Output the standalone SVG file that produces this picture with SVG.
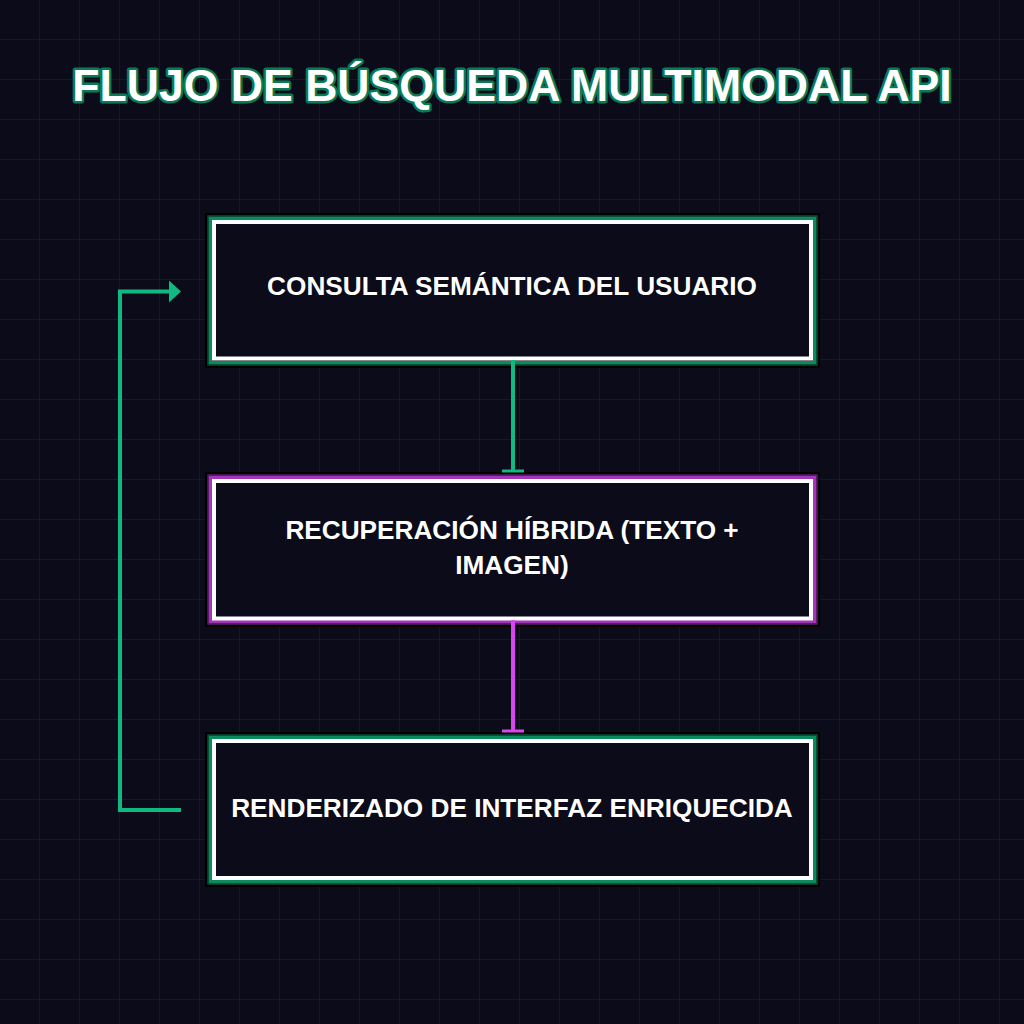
<svg xmlns="http://www.w3.org/2000/svg" width="1024" height="1024" viewBox="0 0 1024 1024">
<defs>
<pattern id="grid" width="40" height="40" patternUnits="userSpaceOnUse">
<path d="M40 0V40M0 40H40" fill="none" stroke="#1a1a30" stroke-width="1.5"/>
</pattern>
<marker id="teeG" markerWidth="6" markerHeight="24" refX="3" refY="12" orient="auto" markerUnits="userSpaceOnUse" viewBox="0 0 6 24">
<rect x="1.5" y="1" width="3" height="22" fill="#10b981"/>
</marker>
<marker id="teeM" markerWidth="6" markerHeight="24" refX="3" refY="12" orient="auto" markerUnits="userSpaceOnUse" viewBox="0 0 6 24">
<rect x="1.5" y="1" width="3" height="22" fill="#d946ef"/>
</marker>
<marker id="arrowG" markerWidth="12" markerHeight="22" refX="1" refY="11" orient="auto" markerUnits="userSpaceOnUse" viewBox="0 0 12 22">
<path d="M0 0L12 11L0 22Z" fill="#10b981"/>
</marker>
</defs>
<style>
.bg{fill:#0b0b19}
.title{font-family:"Liberation Sans",Arial,sans-serif;font-weight:bold;font-size:44.6px;fill:#ffffff;text-anchor:middle;paint-order:stroke;stroke:#0a7a55;stroke-width:5;stroke-linejoin:round}
.lbl{font-family:"Liberation Sans",Arial,sans-serif;font-weight:bold;font-size:26.2px;fill:#ffffff;text-anchor:middle}
.shadow{fill:none;stroke:#000000;stroke-width:3}
.fill{fill:#0b0b19}
.inner{fill:none;stroke:#ffffff;stroke-width:4}
.g1{fill:none;stroke:#0b8a5e;stroke-width:3}
.g2{fill:none;stroke:#064e36;stroke-width:2.5}
.m1{fill:none;stroke:#a335b8;stroke-width:3}
.m2{fill:none;stroke:#5c1a6a;stroke-width:2.5}
</style>
<rect class="bg" x="0" y="0" width="1024" height="1024"/>
<rect x="0" y="0" width="1024" height="1024" fill="url(#grid)"/>
<text class="title" x="512" y="101">FLUJO DE BÚSQUEDA MULTIMODAL API</text>
<g id="node1">
<rect class="fill" x="206" y="214" width="613" height="153"/>
<rect class="shadow" x="206.5" y="214.5" width="612" height="152"/>
<rect class="g2" x="208.5" y="216.5" width="608" height="148"/>
<rect class="g1" x="210.5" y="218.5" width="604" height="144"/>
<rect class="inner" x="214" y="222" width="597" height="136.5"/>
<text class="lbl" x="512" y="295">CONSULTA SEMÁNTICA DEL USUARIO</text>
</g>
<g id="node2">
<rect class="fill" x="206" y="473" width="613" height="153"/>
<rect class="shadow" x="206.5" y="473.5" width="612" height="152"/>
<rect class="m2" x="208.5" y="475.5" width="608" height="148"/>
<rect class="m1" x="210.5" y="477.5" width="604" height="144"/>
<rect class="inner" x="214" y="481" width="597" height="137.5"/>
<text class="lbl" x="512" y="539">RECUPERACIÓN HÍBRIDA (TEXTO +</text>
<text class="lbl" x="512" y="574">IMAGEN)</text>
</g>
<g id="node3">
<rect class="fill" x="206" y="733" width="613" height="153"/>
<rect class="shadow" x="206.5" y="733.5" width="612" height="152"/>
<rect class="g2" x="208.5" y="735.5" width="608" height="148"/>
<rect class="g1" x="210.5" y="737.5" width="604" height="144"/>
<rect class="inner" x="214" y="741" width="597" height="137"/>
<text class="lbl" x="512" y="817">RENDERIZADO DE INTERFAZ ENRIQUECIDA</text>
</g>
<g id="connectors">
<path d="M513 360V471" stroke="#10b981" stroke-width="4" fill="none" marker-end="url(#teeG)"/>
<path d="M513 620V731" stroke="#d946ef" stroke-width="4" fill="none" marker-end="url(#teeM)"/>
<path d="M181 810H120V291.5H170" stroke="#10b981" stroke-width="4" fill="none" marker-end="url(#arrowG)"/>
</g>
</svg>
